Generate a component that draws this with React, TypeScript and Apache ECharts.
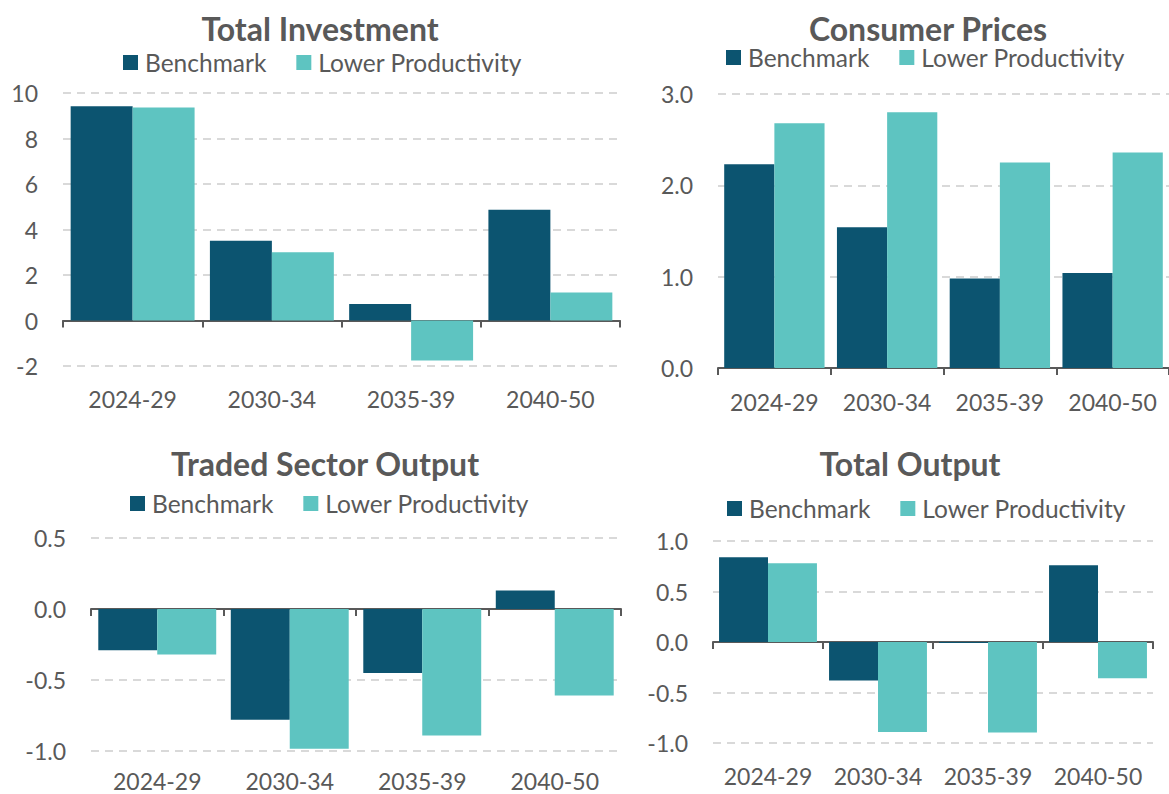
import React, { useEffect, useRef } from "react";
import * as echarts from "echarts";

const categories = ["2024-29", "2030-34", "2035-39", "2040-50"];
const seriesNames = ["Benchmark", "Lower Productivity"];

const investBenchmark = [9.42, 3.51, 0.73, 4.87];
const investLower = [9.36, 3.0, -1.76, 1.23];

const pricesBenchmark = [2.23, 1.54, 0.98, 1.04];
const pricesLower = [2.68, 2.8, 2.25, 2.36];

const tradedBenchmark = [-0.29, -0.78, -0.45, 0.13];
const tradedLower = [-0.32, -0.985, -0.89, -0.61];

const outputBenchmark = [0.84, -0.38, -0.01, 0.76];
const outputLower = [0.78, -0.89, -0.895, -0.36];

const titles = ["Total Investment", "Consumer Prices", "Traded Sector Output", "Total Output"];

const BENCH_COLOR = "#0c5470";
const LOWER_COLOR = "#5ec4c1";
const TEXT_COLOR = "#595959";
const FONT = "Lato, 'Open Sans', sans-serif";

type Panel = {
  title: string;
  bench: number[];
  lower: number[];
  min: number;
  max: number;
  interval: number;
  decimals: number;
  grid: { left: number; top: number; width: number; height: number };
  titlePos: [number, number];
  legendPos: [number, number];
  labelMargin: number;
};

const panels: Panel[] = [
  {
    title: titles[0],
    bench: investBenchmark,
    lower: investLower,
    min: -2,
    max: 10,
    interval: 2,
    decimals: 0,
    grid: { left: 63, top: 93, width: 557, height: 273 },
    titlePos: [320, 28],
    legendPos: [123, 64],
    labelMargin: 21,
  },
  {
    title: titles[1],
    bench: pricesBenchmark,
    lower: pricesLower,
    min: 0,
    max: 3,
    interval: 1,
    decimals: 1,
    grid: { left: 718, top: 94, width: 463, height: 274 },
    titlePos: [928, 28],
    legendPos: [726, 59],
    labelMargin: 22,
  },
  {
    title: titles[2],
    bench: tradedBenchmark,
    lower: tradedLower,
    min: -1,
    max: 0.5,
    interval: 0.5,
    decimals: 1,
    grid: { left: 91, top: 538, width: 530, height: 213 },
    titlePos: [325, 463],
    legendPos: [130, 505],
    labelMargin: 18,
  },
  {
    title: titles[3],
    bench: outputBenchmark,
    lower: outputLower,
    min: -1,
    max: 1,
    interval: 0.5,
    decimals: 1,
    grid: { left: 713, top: 541, width: 440, height: 202 },
    titlePos: [910, 463],
    legendPos: [727, 510],
    labelMargin: 21,
  },
];

function buildOption() {
  const grid: any[] = [];
  const xAxis: any[] = [];
  const yAxis: any[] = [];
  const series: any[] = [];
  const legend: any[] = [];
  const graphic: any[] = [];

  panels.forEach((p, i) => {
    grid.push({ ...p.grid, containLabel: false });
    // axis line at zero with boundary ticks
    xAxis.push({
      type: "category",
      gridIndex: i,
      data: categories,
      axisLine: { onZero: true, lineStyle: { color: TEXT_COLOR, width: 2 } },
      axisTick: { show: true, interval: 0, length: 7, lineStyle: { color: TEXT_COLOR, width: 2 } },
      axisLabel: { show: false },
      splitLine: { show: false },
    });
    // labels at the bottom of the plot
    xAxis.push({
      type: "category",
      gridIndex: i,
      position: "bottom",
      data: categories,
      axisLine: { show: false, onZero: false },
      axisTick: { show: false },
      axisLabel: {
        show: true,
        interval: 0,
        hideOverlap: false,
        margin: p.labelMargin,
        color: TEXT_COLOR,
        fontSize: 23,
        fontFamily: FONT,
      },
      splitLine: { show: false },
    });
    yAxis.push({
      type: "value",
      gridIndex: i,
      min: p.min,
      max: p.max,
      interval: p.interval,
      axisLine: { show: false },
      axisTick: { show: false },
      axisLabel: {
        margin: 25,
        color: TEXT_COLOR,
        fontSize: 23,
        fontFamily: FONT,
        formatter: (v: number) => v.toFixed(p.decimals),
      },
      splitLine: {
        show: true,
        lineStyle: { color: "#d9d9d9", width: 2, type: [8, 6] },
      },
    });
    series.push({
      name: seriesNames[0],
      type: "bar",
      xAxisIndex: i * 2,
      yAxisIndex: i,
      data: p.bench,
      barGap: "0%",
      barCategoryGap: "11%",
      itemStyle: { color: BENCH_COLOR },
    });
    series.push({
      name: seriesNames[1],
      type: "bar",
      xAxisIndex: i * 2,
      yAxisIndex: i,
      data: p.lower,
      barGap: "0%",
      barCategoryGap: "11%",
      itemStyle: { color: LOWER_COLOR },
    });
    legend.push({
      data: seriesNames,
      left: p.legendPos[0],
      top: p.legendPos[1] - 14,
      icon: "rect",
      itemWidth: 15,
      itemHeight: 15,
      itemGap: 30,
      padding: 0,
      selectedMode: false,
      textStyle: { color: TEXT_COLOR, fontSize: 24.5, fontFamily: FONT, padding: [0, 0, 0, 2] },
    });
    graphic.push({
      type: "text",
      x: p.titlePos[0],
      y: p.titlePos[1],
      style: {
        text: p.title,
        align: "center",
        verticalAlign: "middle",
        fill: TEXT_COLOR,
        font: `bold 32px ${FONT}`,
      },
    });
  });

  return {
    animation: false,
    backgroundColor: "#ffffff",
    color: [BENCH_COLOR, LOWER_COLOR],
    grid,
    xAxis,
    yAxis,
    series,
    legend,
    graphic,
  };
}

export default function App() {
  const ref = useRef<HTMLDivElement>(null);
  useEffect(() => {
    document.body.style.margin = "0";
    if (!ref.current) return;
    const chart = echarts.init(ref.current, undefined, { renderer: "svg" });
    chart.setOption(buildOption());
    return () => {
      chart.dispose();
    };
  }, []);
  return <div ref={ref} style={{ width: 1169, height: 794 }} />;
}
